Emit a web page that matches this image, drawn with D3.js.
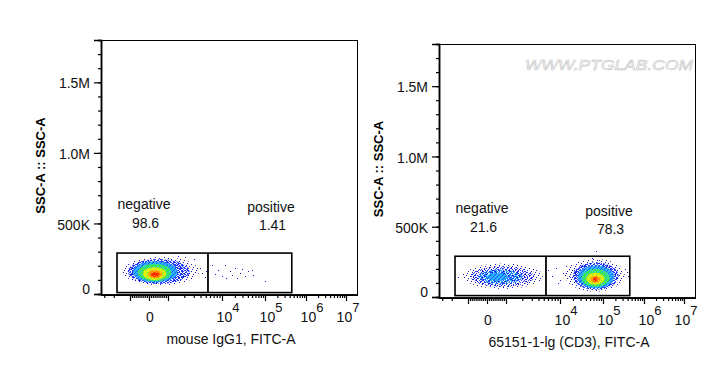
<!DOCTYPE html>
<html>
<head>
<meta charset="utf-8">
<script src="https://cdn.jsdelivr.net/npm/d3@7/dist/d3.min.js"></script>
<style>
  html, body { margin: 0; padding: 0; background: #fff; }
  svg { display: block; font-family: "Liberation Sans", Arial, sans-serif; }
</style>
</head>
<body>
<div id="chart"></div>
<script>
// ----------------------------
// Data
// ----------------------------
const yTickValues = [0, 500000, 1000000, 1500000];
const yTickLabels = ['0', '500K', '1.0M', '1.5M'];
const xTickExponents = [4, 5, 6, 7];
const sampleNames = ['mouse IgG1, FITC-A', '65151-1-lg (CD3), FITC-A'];
const gateNames = ['negative', 'positive'];
const gatePercents = [['98.6', '1.41'], ['21.6', '78.3']];
const gateFitc = [-1740, 5500, 450000];   // left edge, split, right edge
const gateSsc = [10000, 290000];          // bottom, top

// density contours [fitcLow, fitcHigh, sscLow, sscHigh], sparse halo first, densest last
const isotypeNeg = [
  [-1400, 3800, 62000, 262000],
  [-1100, 2500, 72000, 248000],
  [-850, 1500, 82000, 232000],
  [-580, 1150, 90000, 215000],
  [-320, 900, 100000, 190000],
  [-50, 700, 112000, 170000],
  [100, 550, 122000, 155000]
];
const cd3Neg = [
  [-1250, 4800, 58000, 238000],
  [-850, 3300, 72000, 218000],
  [-450, 2000, 92000, 195000],
  [0, 1100, 115000, 170000]
];
const cd3Pos = [
  [13000, 340000, 38000, 272000],
  [20000, 240000, 52000, 245000],
  [26000, 185000, 62000, 225000],
  [32000, 145000, 72000, 200000],
  [41000, 108000, 88000, 172000],
  [51000, 86000, 100000, 152000],
  [58000, 75000, 110000, 140000]
];

// single events outside the contours [fitc, ssc]
const isotypeDots = [
  [6400, 207000], [7400, 142000], [8500, 172000], [9900, 125000], [11700, 207000],
  [12400, 113000], [15300, 160000], [16800, 132000], [20000, 184000], [22000, 113000],
  [26000, 149000], [28700, 179000], [34000, 125000], [41000, 160000], [49000, 172000],
  [53000, 132000], [100000, 89000], [4200, 150000], [4800, 120000], [3900, 185000],
  [5000, 165000], [2100, 262000], [1500, 270000], [3000, 250000]
];
const cd3Dots = [
  [6000, 195000], [7100, 152000], [8400, 209000], [10000, 124000], [11700, 173000],
  [13800, 223000], [17000, 145000], [21000, 190000], [5200, 130000], [9000, 100000],
  [67000, 326000], [93000, 290000], [-1240, 166000], [-1500, 140000], [400000, 150000],
  [350000, 200000], [380000, 180000], [55000, 280000], [80000, 265000]
];

// ----------------------------
// Layout / styles
// ----------------------------
const W = 718, H = 368;
const denseStyle = ['lvl0', 'lvl1', 'lvl2', 'lvl3', 'lvl4', 'lvl5', 'lvl6'];
const thinStyle = ['lvl0', 'thin1', 'thin2', 'lvl2'];
const panels = [
  { left: 101, top: 40, width: 256, height: 255,
    contours: [{ levels: isotypeNeg, style: denseStyle }], dots: isotypeDots, watermark: false },
  { left: 439, top: 44, width: 256, height: 254,
    contours: [{ levels: cd3Neg, style: thinStyle }, { levels: cd3Pos, style: denseStyle }],
    dots: cd3Dots, watermark: true }
];

const patterns = {
  lvl0: { colors: ['#1a1ac8'], rows: ['100000000', '000010000', '000000010', '001000000', '000000100', '010000000', '000001000'] },
  lvl1: { colors: ['#1f3cff', '#0a0ad2'], rows: ['1012101', '0110010', '1001101', '0101110', '1100100', '0011011'] },
  lvl2: { colors: ['#2ab4ff', '#1f55ff'], rows: ['1121', '1211', '2111', '1112'] },
  lvl3: { colors: ['#3ce65a', '#2ac8e6'], rows: ['1121', '1111', '2111', '1112'] },
  lvl4: { colors: ['#e6f000', '#50e650'], rows: ['1121', '1111', '1211', '1111'] },
  lvl5: { colors: ['#ff9a00', '#f0e000'], rows: ['1112', '1111', '1211', '1111'] },
  lvl6: { colors: ['#ff2a00', '#ff8c00'], rows: ['1112', '1111', '1111', '1211'] },
  thin1: { colors: ['#1f3cff', '#0a0ad2'], rows: ['1000100', '0020001', '0100010', '1002000', '0000101', '0210000'] },
  thin2: { colors: ['#2ab4ff', '#1f3cff'], rows: ['12010', '01102', '20110', '10201', '01120'] }
};

// logicle-like display: linear within +-1000, log beyond
function displayChannel(v) {
  if (Math.abs(v) <= 1000) return v / 1000;
  return Math.sign(v) * (1 + Math.log10(Math.abs(v) / 1000));
}
const xDisplay = d3.scaleLinear()
  .domain([-2, -1, 0, 1, 2, 3, 4, 5, 6])
  .range([-25, 29, 48, 67, 121, 164, 205, 245, 285]);
const x = v => xDisplay(displayChannel(v));

const svg = d3.select('#chart').append('svg')
  .attr('width', W)
  .attr('height', H);

const defs = svg.append('defs');
Object.entries(patterns).forEach(([id, pt]) => {
  const pat = defs.append('pattern')
    .attr('id', id)
    .attr('patternUnits', 'userSpaceOnUse')
    .attr('width', pt.rows[0].length)
    .attr('height', pt.rows.length);
  pt.rows.forEach((row, r) => {
    row.split('').forEach((c, col) => {
      if (c === '0') return;
      pat.append('rect')
        .attr('x', col).attr('y', r)
        .attr('width', 1).attr('height', 1)
        .attr('fill', pt.colors[+c - 1]);
    });
  });
});

// ----------------------------
// Draw panels
// ----------------------------
const minorX = [].concat(
  d3.range(-9, -1).map(m => m * 1000),
  d3.range(-9, 0).map(m => m * 100),
  d3.range(1, 10).map(m => m * 100),
  ...[1e3, 1e4, 1e5, 1e6].map(b => d3.range(2, 10).map(m => m * b))
);
const majorX = [-1e4, -1e3, 0, 1e3, 1e4, 1e5, 1e6, 1e7];

panels.forEach((p, idx) => {
  const g = svg.append('g').attr('transform', `translate(${p.left},${p.top})`);
  const y = d3.scaleLinear().domain([0, 1800000]).range([p.height - 1, 0]);
  const inFrame = v => x(v) >= 0 && x(v) <= p.width;

  g.append('clipPath').attr('id', 'clip' + idx)
    .append('rect').attr('width', p.width).attr('height', p.height);

  const plot = g.append('g').attr('clip-path', `url(#clip${idx})`);

  // density contours
  p.contours.forEach(set => {
    plot.selectAll(null)
      .data(set.levels)
      .enter()
      .append('ellipse')
      .attr('cx', d => (x(d[0]) + x(d[1])) / 2)
      .attr('cy', d => (y(d[2]) + y(d[3])) / 2)
      .attr('rx', d => (x(d[1]) - x(d[0])) / 2)
      .attr('ry', d => (y(d[2]) - y(d[3])) / 2)
      .attr('fill', (d, i) => `url(#${set.style[i]})`);
  });

  // single events
  plot.selectAll(null)
    .data(p.dots)
    .enter()
    .append('rect')
    .attr('x', d => Math.round(x(d[0])))
    .attr('y', d => Math.round(y(d[1])))
    .attr('width', 1)
    .attr('height', 1)
    .attr('fill', '#1a1ac8');

  // gates
  const gx0 = x(gateFitc[0]), gx1 = x(gateFitc[1]), gx2 = x(gateFitc[2]);
  const gy0 = y(gateSsc[1]), gy1 = y(gateSsc[0]);
  g.append('rect')
    .attr('x', gx0).attr('y', gy0)
    .attr('width', gx2 - gx0).attr('height', gy1 - gy0)
    .attr('fill', 'none').attr('stroke', '#000').attr('stroke-width', 1.6);
  g.append('line')
    .attr('x1', gx1).attr('x2', gx1).attr('y1', gy0).attr('y2', gy1)
    .attr('stroke', '#000').attr('stroke-width', 1.8);

  // gate labels
  const labelX = [43, 170];
  gateNames.forEach((name, i) => {
    g.append('text')
      .attr('x', labelX[i]).attr('y', 169 + i * 2.5)
      .attr('text-anchor', 'middle').attr('font-size', 14).attr('fill', '#111')
      .text(name);
    g.append('text')
      .attr('x', labelX[i] + 1.5).attr('y', 188 + i * 2)
      .attr('text-anchor', 'middle').attr('font-size', 14).attr('fill', '#111')
      .text(gatePercents[idx][i]);
  });

  // frame
  g.append('rect')
    .attr('width', p.width).attr('height', p.height)
    .attr('fill', 'none').attr('stroke', '#000').attr('stroke-width', 1)
    .attr('shape-rendering', 'crispEdges');

  // y axis
  const yMinor = g.append('g')
    .call(d3.axisLeft(y).tickValues(d3.range(0, 1800001, 100000)).tickSize(3).tickFormat(''));
  const yMajor = g.append('g')
    .call(d3.axisLeft(y).tickValues(yTickValues).tickSize(7).tickPadding(4)
      .tickFormat((d, i) => yTickLabels[i]));
  [yMinor, yMajor].forEach(a => {
    a.select('.domain').attr('stroke-width', 1.5);
    a.selectAll('line').attr('stroke-width', 1.2);
  });
  yMajor.selectAll('text')
    .attr('font-size', 14).attr('fill', '#111')
    .attr('font-family', '"Liberation Sans", Arial, sans-serif')
    .attr('dy', d => d === 0 ? '-0.02em' : '0.4em');

  // x axis (in display units)
  const xAxisG = g.append('g').attr('transform', `translate(0,${p.height})`);
  const xMinorA = xAxisG.append('g')
    .call(d3.axisBottom(xDisplay).tickValues(minorX.filter(inFrame).map(displayChannel))
      .tickSize(3).tickFormat(''));
  const xMajorA = xAxisG.append('g')
    .call(d3.axisBottom(xDisplay).tickValues(majorX.filter(inFrame).map(displayChannel))
      .tickSize(6).tickFormat(''));
  [xMinorA, xMajorA].forEach(a => {
    a.select('.domain').attr('d', `M0,0H${p.width}`).attr('stroke-width', 1.5);
    a.selectAll('line').attr('stroke-width', 1.2);
  });

  xAxisG.append('text')
    .attr('x', x(0) + 1).attr('y', 26.5)
    .attr('text-anchor', 'middle').attr('font-size', 14).attr('fill', '#111')
    .text('0');
  xTickExponents.forEach(e => {
    const t = xAxisG.append('text')
      .attr('x', x(Math.pow(10, e)) + (e === 7 ? 2 : 6)).attr('y', 26.5)
      .attr('text-anchor', 'middle').attr('font-size', 14).attr('fill', '#111');
    t.append('tspan').text('10');
    t.append('tspan').attr('dy', -10).attr('font-size', 13).text(e);
  });

  xAxisG.append('text')
    .attr('x', p.width / 2 + 2).attr('y', 49)
    .attr('text-anchor', 'middle').attr('font-size', 14).attr('fill', '#111')
    .text(sampleNames[idx]);

  // y title
  g.append('text')
    .attr('transform', `translate(-56,${p.height / 2 - 2}) rotate(-90)`)
    .attr('text-anchor', 'middle').attr('font-size', 13).attr('font-weight', 'bold')
    .text('SSC-A :: SSC-A');

  if (p.watermark) {
    g.append('text')
      .attr('x', 86).attr('y', 26)
      .attr('font-size', 14).attr('font-style', 'italic')
      .attr('textLength', 168).attr('lengthAdjust', 'spacingAndGlyphs')
      .attr('fill', '#fff').attr('stroke', '#c4c4c4').attr('stroke-width', 0.55)
      .text('WWW.PTGLAB.COM');
  }
});
</script>
</body>
</html>
